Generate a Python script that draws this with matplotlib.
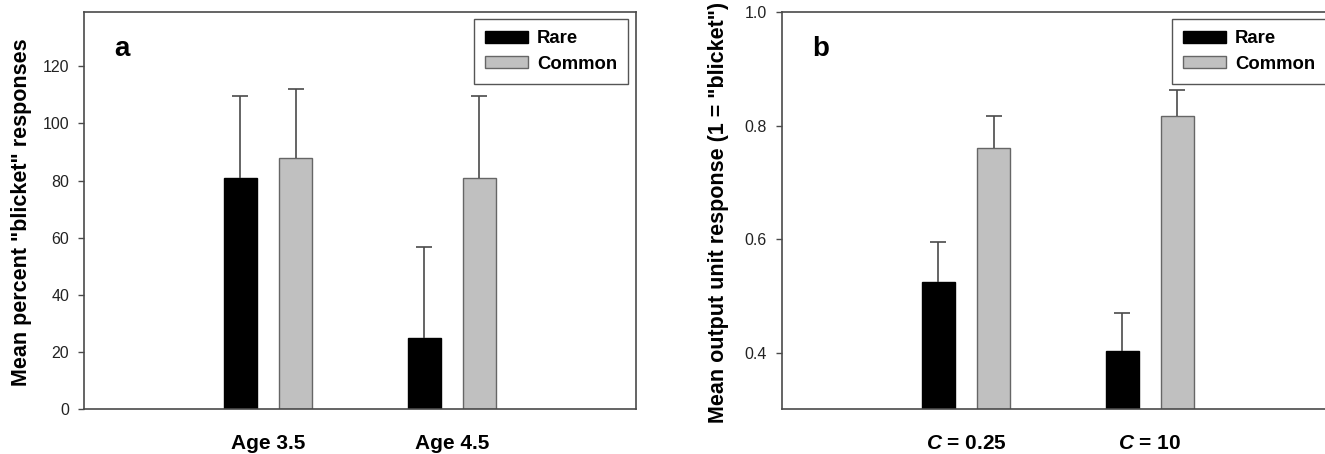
import numpy as np
import matplotlib
matplotlib.use('Agg')
import matplotlib.pyplot as plt
from matplotlib.patches import Patch

plt.rcParams['font.family'] = ['Liberation Sans', 'DejaVu Sans']
plt.rcParams['mathtext.fontset'] = 'custom'
plt.rcParams['mathtext.bfit'] = 'Liberation Sans:italic:bold'
plt.rcParams['mathtext.it'] = 'Liberation Sans:italic'

# panel a: children
ages = ['Age 3.5', 'Age 4.5']
rare_a = [81, 25]
rare_a_err = [28.5, 31.8]
common_a = [88, 81]
common_a_err = [24.2, 28.5]

# panel b: model
c_labels = [r'$\mathbfit{C}$ = 0.25', r'$\mathbfit{C}$ = 10']
rare_b = [0.524, 0.402]
rare_b_err = [0.071, 0.067]
common_b = [0.761, 0.816]
common_b_err = [0.056, 0.047]

W, H = 1325, 454
EDGE = '#4a4a4a'
GRAY = '#c0c0c0'

fig = plt.figure(figsize=(W / 100, H / 100), dpi=100)


def drop_lower_caps(bars):
    # only the upper half of the error bar is shown
    caps = bars.errorbar.lines[1]
    if caps:
        caps[0].set_visible(False)


def panel(left, labels, rare, rare_err, common, common_err, ylim, yticks, ylabel, letter, ycenter_x):
    ax = fig.add_axes([left / W, 1 - 409.3 / H, 551.2 / W, 397.3 / H])
    x = np.arange(1, len(labels) + 1)
    ekw = dict(ecolor=EDGE, elinewidth=1.2, capsize=5.5, capthick=1.2)
    b1 = ax.bar(x - 0.15, rare, width=0.18, color='black', edgecolor='black', linewidth=1,
                yerr=[np.zeros(len(rare)), rare_err], error_kw=ekw, zorder=2)
    b2 = ax.bar(x + 0.15, common, width=0.18, color=GRAY, edgecolor='#666666', linewidth=1,
                yerr=[np.zeros(len(common)), common_err], error_kw=ekw, zorder=2)
    drop_lower_caps(b1)
    drop_lower_caps(b2)

    ax.set_xlim(0, 3)
    ax.set_ylim(*ylim)
    ax.set_xticks(x)
    ax.set_xticklabels(labels, fontsize=15, fontweight='bold')
    ax.tick_params(axis='x', length=0, pad=18)
    ax.set_yticks(yticks)
    ax.tick_params(axis='y', direction='out', length=4, width=1, color=EDGE,
                   labelsize=11.5, pad=7, labelcolor='#222222')
    for s in ax.spines.values():
        s.set_color(EDGE)
        s.set_linewidth(1.2)

    ax.text(30 / 551.2, 1 - 37.5 / 397.3, letter, transform=ax.transAxes,
            fontsize=20, fontweight='bold', va='center', ha='left')

    handles = [Patch(facecolor='black', edgecolor='black', label='Rare'),
               Patch(facecolor=GRAY, edgecolor='#666666', label='Common')]
    leg = ax.legend(handles=handles, loc='upper right',
                    prop={'weight': 'bold', 'size': 13.3},
                    handlelength=2.3, handleheight=0.65, handletextpad=0.5,
                    borderpad=0.6, labelspacing=0.45, borderaxespad=0.4,
                    fancybox=False, framealpha=1, edgecolor='#555555')
    leg.get_frame().set_linewidth(1)

    fig.text(ycenter_x / W, 1 - 212 / H, ylabel, rotation=90, ha='center', va='center',
             fontsize=15.5, fontweight='bold')
    return ax


panel(84.3, ages, rare_a, rare_a_err, common_a, common_a_err, (0, 139),
      [0, 20, 40, 60, 80, 100, 120], 'Mean percent "blicket" responses', 'a', 22)

ax_b = panel(782.3, c_labels, rare_b, rare_b_err, common_b, common_b_err, (0.3, 1.0),
             [0.4, 0.6, 0.8, 1.0], 'Mean output unit response (1 = "blicket")', 'b', 718.5)
ax_b.set_yticklabels(['0.4', '0.6', '0.8', '1.0'])

fig.savefig('out.png', dpi=100)
